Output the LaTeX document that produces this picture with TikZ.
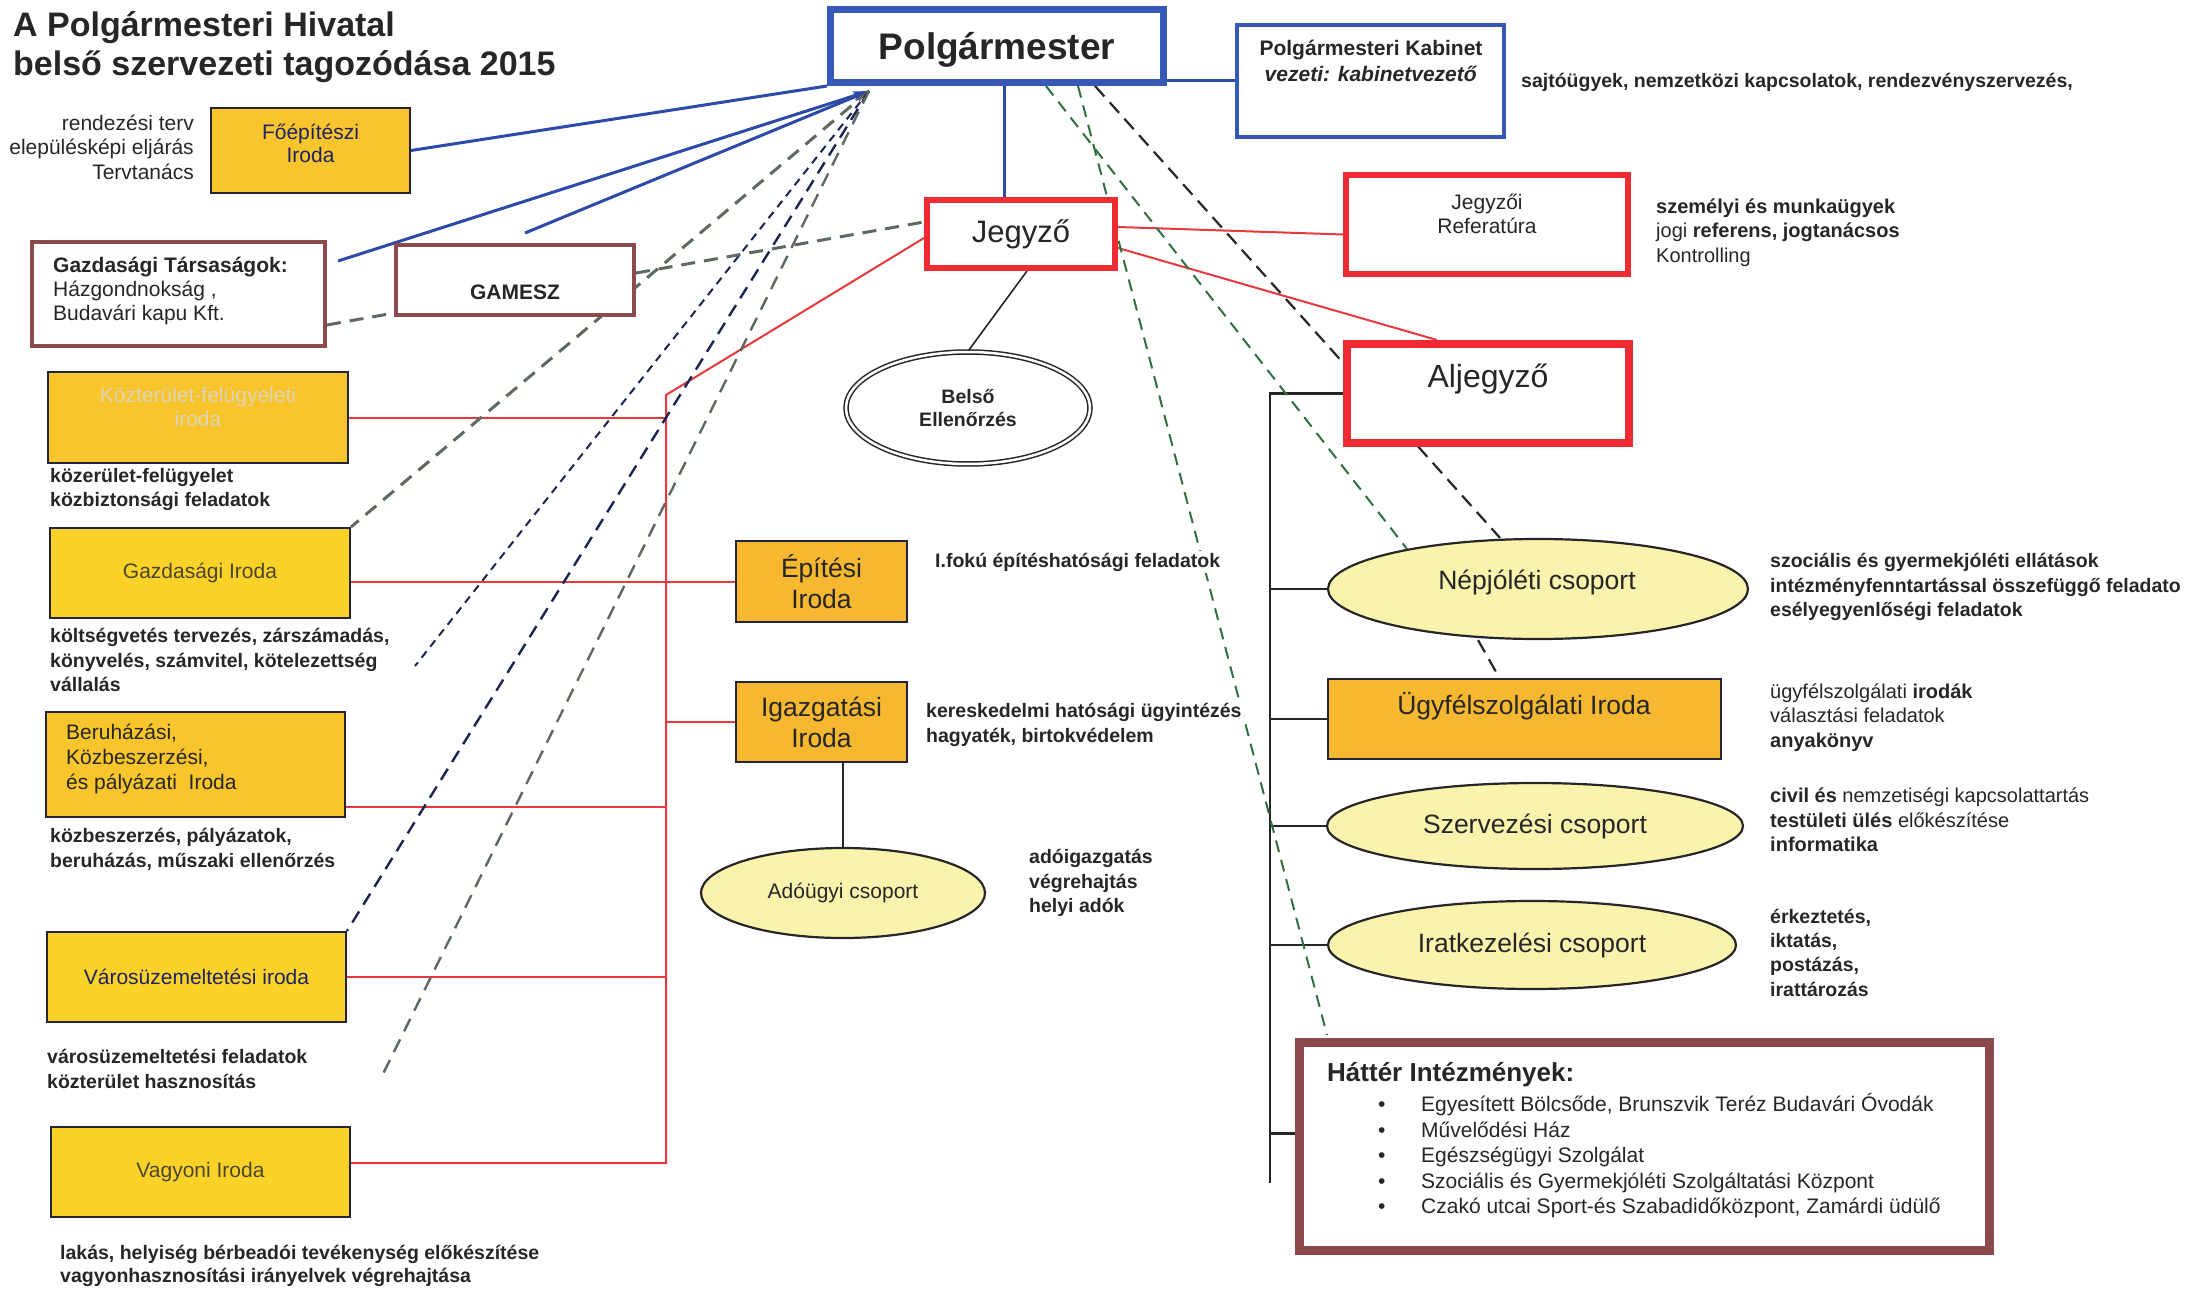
\documentclass[tikz,border=0pt]{standalone}
\usepackage{fontspec}
\setmainfont{Liberation Sans}
\usepackage{tikz}
\usetikzlibrary{shapes.geometric,backgrounds,arrows.meta}
\definecolor{ink}{HTML}{262626}
\definecolor{gold}{HTML}{F8C52C}
\definecolor{yellowbox}{HTML}{FBD227}
\definecolor{orangebox}{HTML}{F6B731}
\definecolor{ellfill}{HTML}{FAF3AE}
\definecolor{boxline}{HTML}{24243A}
\definecolor{bluebd}{HTML}{3658B8}
\definecolor{bluecon}{HTML}{2C4AA8}
\definecolor{redbd}{HTML}{EE2B33}
\definecolor{redcon}{HTML}{E8383B}
\definecolor{brownbd}{HTML}{8C4A4D}
\definecolor{navytxt}{HTML}{1E2266}
\definecolor{olivetxt}{HTML}{4A4630}
\definecolor{paletxt}{HTML}{DDD4BA}
\definecolor{navydash}{HTML}{1B2452}
\definecolor{graydash}{HTML}{5E6A5E}
\definecolor{greendash}{HTML}{2F7040}

\begin{document}
\begin{tikzpicture}[x=1pt,y=-1pt,
  every node/.style={inner sep=0pt,text=ink},
  txt/.style={font=\fontsize{21}{24.5}\selectfont},
  btxt/.style={font=\bfseries\fontsize{19.5}{24.5}\selectfont},
  bigtxt/.style={font=\fontsize{26.5}{31}\selectfont},
  ybox/.style={draw=boxline,line width=2,fill=gold},
  bluebox/.style={draw=bluebd,fill=white},
  redbox/.style={draw=redbd,fill=white},
  brownbox/.style={draw=brownbd,fill=white},
  ellbox/.style={ellipse,draw=ink,line width=2.2,fill=ellfill},
  bluel/.style={draw=bluecon,line width=3},
  redl/.style={draw=redcon,line width=2},
  blackl/.style={draw=ink,line width=2.5},
  thinl/.style={draw=ink,line width=1.6},
  navyd/.style={draw=navydash,line width=2,dash pattern=on 8 off 6},
  navydd/.style={draw=navydash,line width=2.4,dash pattern=on 13 off 8},
  grayd/.style={draw=graydash,line width=3,dash pattern=on 14 off 9},
  greend/.style={draw=greendash,line width=2,dash pattern=on 12 off 8},
  blackd/.style={draw=ink,line width=2.2,dash pattern=on 14 off 8}]
\useasboundingbox (0,0) rectangle (2192,1289);

\node[font=\bfseries\fontsize{34}{39.5}\selectfont,anchor=west,align=left] (title) at (13,47) {A Polgármesteri Hivatal\\belső szervezeti tagozódása 2015};

\node[bluebox,line width=7,minimum width=333,minimum height=73,text height=27,text depth=0,font=\bfseries\fontsize{37}{40}\selectfont] (polg) at (997,46) {Polgármester};
\node[bluebox,line width=4,minimum width=267,minimum height=112] (kabinet) at (1370.5,81) {};
\node[font=\bfseries\fontsize{21}{26}\selectfont,align=center] (kabtxt) at (1371,61) {Polgármesteri Kabinet\\\textit{vezeti: kabinetvezető}};
\node[btxt,anchor=west] (kabfel) at (1521,82) {sajtóügyek, nemzetközi kapcsolatok, rendezvényszervezés,};

\node[redbox,line width=6,minimum width=188,minimum height=68,font=\fontsize{31}{34}\selectfont] (jegyzo) at (1021,234) {Jegyző};
\node[redbox,line width=6,minimum width=282,minimum height=99] (referat) at (1487,224.5) {};
\node[txt,align=center] (reftxt) at (1487,214) {Jegyzői\\Referatúra};
\node[anchor=west,align=left,font=\fontsize{20}{24.5}\selectfont] (reffel) at (1656,232.5) {\textbf{személyi és munkaügyek}\\jogi \textbf{referens, jogtanácsos}\\Kontrolling};
\node[redbox,line width=8,minimum width=282,minimum height=99] (aljegyzo) at (1488,393.5) {};
\node[font=\fontsize{32}{36}\selectfont] (aljtxt) at (1488,379) {Aljegyző};
\node[ellipse,draw=ink,line width=1.5,double=white,double distance=2.5,fill=white,minimum width=244,minimum height=112,align=center,font=\bfseries\fontsize{19.5}{23}\selectfont] (belso) at (968,408) {Belső\\Ellenőrzés};

\node[ybox,minimum width=199,minimum height=85] (foepit) at (310.5,150.5) {};
\node[align=center,text=navytxt,font=\fontsize{21}{23}\selectfont] (foeptxt) at (310.5,143.5) {Főépítészi\\Iroda};
\node[txt,anchor=east,align=right] (foepfel) at (194,147) {rendezési terv\\elepülésképi eljárás\\Tervtanács};
\node[brownbox,line width=4,minimum width=293,minimum height=104] (gazdtars) at (178.5,294) {};
\node[anchor=west,align=left,font=\fontsize{21}{24}\selectfont] (gttxt) at (53,291) {\textbf{Gazdasági Társaságok:}\\Házgondnokság ,\\Budavári kapu Kft.};
\node[brownbox,line width=4,minimum width=238,minimum height=70] (gamesz) at (515,280) {};
\node[font=\bfseries\fontsize{21}{24}\selectfont] (gamtxt) at (515,292) {GAMESZ};

\node[ybox,minimum width=300,minimum height=91] (kozter) at (198,417.5) {};
\node[align=center,text=paletxt,font=\fontsize{21}{24}\selectfont] (koztxt) at (198,407) {Közterület-felügyeleti\\iroda};
\node[btxt,anchor=west,align=left] (kozfel) at (50,489.5) {közerület-felügyelet\\közbiztonsági feladatok};
\node[ybox,fill=yellowbox,minimum width=300,minimum height=90,txt,text=olivetxt] (gazdiroda) at (200,573) {Gazdasági Iroda};
\node[btxt,anchor=west,align=left] (gazdfel) at (50,660) {költségvetés tervezés, zárszámadás,\\könyvelés, számvitel, kötelezettség\\vállalás};
\node[ybox,minimum width=299,minimum height=105] (beruh) at (195.5,764.5) {};
\node[anchor=west,align=left,font=\fontsize{21}{25}\selectfont] (beruhtxt) at (66,759) {Beruházási,\\Közbeszerzési,\\és pályázati\ \ Iroda};
\node[btxt,anchor=west,align=left] (beruhfel) at (50,849.5) {közbeszerzés, pályázatok,\\beruházás, műszaki ellenőrzés};
\node[ybox,fill=yellowbox,minimum width=299,minimum height=90,txt,text=navytxt] (varos) at (196.5,977) {Városüzemeltetési iroda};
\node[btxt,anchor=west,align=left] (varosfel) at (47,1069) {városüzemeltetési feladatok\\közterület hasznosítás};
\node[ybox,fill=yellowbox,minimum width=299,minimum height=90,txt,text=olivetxt] (vagyoni) at (200.5,1172) {Vagyoni Iroda};
\node[anchor=west,align=left,font=\bfseries\fontsize{19.5}{23}\selectfont] (vagyfel) at (60,1266) {lakás, helyiség bérbeadói tevékenység előkészítése\\vagyonhasznosítási irányelvek végrehajtása};

\node[ybox,fill=orangebox,minimum width=171,minimum height=81,align=center,bigtxt] (epitesi) at (821.5,581.5) {Építési\\Iroda};
\node[btxt,anchor=west,fill=white,inner sep=2] (epitfel) at (933,562) {I.fokú építéshatósági feladatok};
\node[ybox,fill=orangebox,minimum width=171,minimum height=80,align=center,bigtxt] (igazgat) at (821.5,722) {Igazgatási\\Iroda};
\node[btxt,anchor=west,align=left,fill=white,inner sep=2] (igazgfel) at (924,725) {kereskedelmi hatósági ügyintézés\\hagyaték, birtokvédelem};
\node[ellbox,minimum width=284,minimum height=90,txt] (adougyi) at (843,893) {Adóügyi csoport};
\node[btxt,anchor=west,align=left] (adofel) at (1029,883) {adóigazgatás\\végrehajtás\\helyi adók};

\node[ellbox,minimum width=420,minimum height=100] (nepjol) at (1538,589) {};
\node[bigtxt] (neptxt) at (1537,582) {Népjóléti csoport};
\node[btxt,anchor=west,align=left] (nepfel) at (1770,587) {szociális és gyermekjóléti ellátások\\intézményfenntartással összefüggő feladato\\esélyegyenlőségi feladatok};
\node[ybox,fill=orangebox,minimum width=393,minimum height=80] (ugyfel) at (1524.5,719) {};
\node[bigtxt] (ugytxt) at (1524,706) {Ügyfélszolgálati Iroda};
\node[anchor=west,align=left,font=\fontsize{20}{24.5}\selectfont] (ugyfelfel) at (1770,717.5) {ügyfélszolgálati \textbf{irodák}\\választási feladatok\\\textbf{anyakönyv}};
\node[ellbox,minimum width=416,minimum height=86,bigtxt] (szervez) at (1535,826) {Szervezési csoport};
\node[anchor=west,align=left,font=\fontsize{20}{24.5}\selectfont] (szervfel) at (1770,820) {\textbf{civil és} nemzetiségi kapcsolattartás\\\textbf{testületi ülés} előkészítése\\\textbf{informatika}};
\node[ellbox,minimum width=408,minimum height=88,bigtxt] (iratkez) at (1532,945) {Iratkezelési csoport};
\node[anchor=west,align=left,font=\bfseries\fontsize{19.5}{24.3}\selectfont] (iratfel) at (1770,952.5) {érkeztetés,\\iktatás,\\postázás,\\irattározás};

\node[brownbox,line width=9,minimum width=690,minimum height=208] (hatter) at (1644.5,1146.5) {};
\node[anchor=west,font=\bfseries\fontsize{26}{30}\selectfont] (hattit) at (1327,1075) {Háttér Intézmények:};
\node[anchor=west,align=left,font=\fontsize{21}{25.5}\selectfont] (hatlist) at (1378,1156) {\makebox[43pt][l]{•}Egyesített Bölcsőde, Brunszvik Teréz Budavári Óvodák\\\makebox[43pt][l]{•}Művelődési Ház\\\makebox[43pt][l]{•}Egészségügyi Szolgálat\\\makebox[43pt][l]{•}Szociális és Gyermekjóléti Szolgáltatási Központ\\\makebox[43pt][l]{•}Czakó utcai Sport-és Szabadidőközpont, Zamárdi üdülő};

\coordinate (conv) at (869,91);
\coordinate (gtend) at (338,261);
\coordinate (gamtop) at (525,233);
\coordinate (n1end) at (415,666);
\coordinate (g2end) at (380,1080);
\coordinate (g4end) at (1327,1035);
\coordinate (kink) at (666,395);
\coordinate (redbot) at (666,1163);
\coordinate (busbot) at (1270,1183);
\coordinate (beruhr) at ([yshift=11]beruh.south east);
\coordinate (hattl) at ([yshift=13]hatter.west);

\begin{scope}[on background layer]
\draw[bluel] (polg.south west) -- (foepit.east);
\draw[bluel,-{Stealth[length=16,width=9]}] (gtend) -- (conv);
\draw[bluel,-{Stealth[length=16,width=9]}] (gamtop) -- (conv);
\draw[bluel] (kabinet.west) -- (kabinet.west -| polg.east);
\draw[bluel] ([xshift=7]polg.south) -- ([xshift=-17]jegyzo.north);

\draw[redl] ([yshift=7]jegyzo.east) -- ([yshift=-10]referat.west);
\draw[redl] ([yshift=-14]jegyzo.east) -- ([xshift=-51]aljegyzo.north);
\draw[redl] ([yshift=-4]jegyzo.west) -- (kink) -- (redbot) -- (redbot -| vagyoni.east);
\draw[redl] (kozter.east) -- (kozter.east -| kink);
\draw[redl] (epitesi.west -| gazdiroda.east) -- (epitesi.west);
\draw[redl] (igazgat.west) -- (igazgat.west -| kink);
\draw[redl] (beruhr) -- (beruhr -| kink);
\draw[redl] (varos.east) -- (varos.east -| kink);

\draw[thinl] ([xshift=6]jegyzo.south) -- (belso.north);
\draw[thinl] (igazgat.south -| adougyi.north) -- (adougyi.north);

\draw[blackl] (aljegyzo.west) -| (busbot);
\draw[blackl] (nepjol.west) -- (nepjol.west -| busbot);
\draw[blackl] (ugyfel.west) -- (ugyfel.west -| busbot);
\draw[blackl] (szervez.west) -- (szervez.west -| busbot);
\draw[blackl] (iratkez.west) -- (iratkez.west -| busbot);
\draw[blackl] (hattl) -- (hattl -| busbot);

\draw[grayd] (conv) -- (gazdiroda.north east);
\draw[navyd] (conv) -- (n1end);
\draw[navydd] (conv) -- (varos.north east);
\draw[grayd,line width=2.4] (conv) -- (g2end);
\draw[grayd] ([yshift=7]gamesz.east) -- ([yshift=12]jegyzo.west);
\draw[grayd] ([yshift=-31]gazdtars.east) -- ([yshift=-33]gamesz.west);
\draw[blackd] ([xshift=98]polg.south) -- ([xshift=-38]nepjol.north);
\draw[blackd] ([xshift=-60]nepjol.south) -- ([xshift=-25]ugyfel.north);
\draw[greend] ([xshift=49]polg.south) -- (nepjol.163);
\draw[greend] ([xshift=81]polg.south) -- (g4end);
\end{scope}
\end{tikzpicture}
\end{document}
